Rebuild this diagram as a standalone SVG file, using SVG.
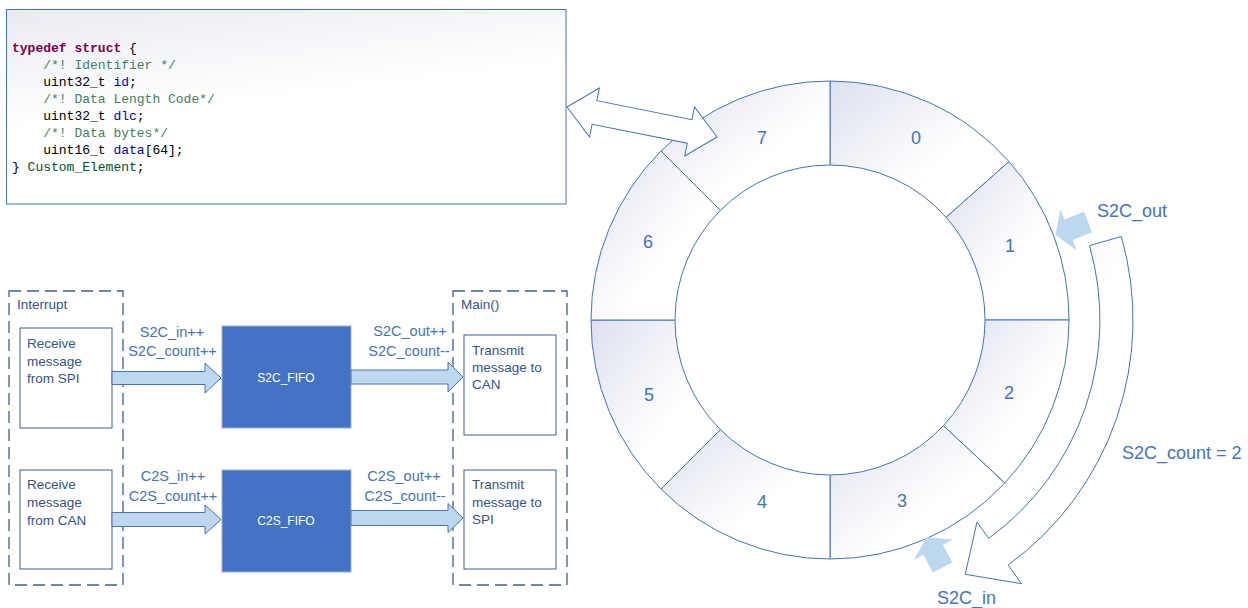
<svg xmlns="http://www.w3.org/2000/svg" width="1248" height="608" viewBox="0 0 1248 608">
<defs>
<linearGradient id="segGrad" x1="0" y1="0" x2="1" y2="1">
<stop offset="0" stop-color="#dde1ee"/>
<stop offset="0.6" stop-color="#ffffff"/>
</linearGradient>
<linearGradient id="codeGrad" x1="0" y1="0" x2="0.35" y2="1">
<stop offset="0" stop-color="#e9ebf2"/>
<stop offset="0.55" stop-color="#ffffff"/>
</linearGradient>
<linearGradient id="curveGrad" x1="0" y1="0" x2="1" y2="1">
<stop offset="0" stop-color="#e6e9f3"/>
<stop offset="0.5" stop-color="#ffffff"/>
</linearGradient>
<style>
.seg{fill:url(#segGrad);stroke:#4472c4;stroke-width:1}
.num{font-family:"Liberation Sans",Arial,sans-serif;font-size:18px;fill:#4472c4;text-anchor:middle}
.big{font-family:"Liberation Sans",Arial,sans-serif;font-size:18px;fill:#4472c4}
.code{font-family:"Liberation Mono","Courier New",monospace;font-size:13px;fill:#000000}
.kw{fill:#7f0055;font-weight:bold}
.cm{fill:#3f7f5f}
.fld{fill:#0000c0}
.typ{fill:#005032}
.dash{fill:none;stroke:#3d5d9c;stroke-width:1.3;stroke-dasharray:12,6}
.box{fill:#ffffff;stroke:#3d5d9c;stroke-width:1}
.boxt{font-family:"Liberation Sans",Arial,sans-serif;font-size:13.5px;fill:#34558f}
.fifo{fill:#4472c4;stroke:#9bb0d8;stroke-width:1}
.fifot{font-family:"Liberation Sans",Arial,sans-serif;font-size:12px;fill:#ffffff;text-anchor:middle}
.lbl{font-family:"Liberation Sans",Arial,sans-serif;font-size:14.5px;fill:#4472c4;text-anchor:middle}
.blk{fill:#bdd7ee;stroke:#4a72b8;stroke-width:1}
.ptr{fill:#bdd7ee;stroke:none}
.dbl{fill:#ffffff;stroke:#4472c4;stroke-width:1}
</style>
</defs>
<rect width="1248" height="608" fill="#ffffff"/>

<g id="code-box">
<rect x="6.5" y="9.5" width="559.5" height="194.5" fill="url(#codeGrad)" stroke="#4472c4" stroke-width="1"/>
<text class="code" x="12" y="51.5"><tspan class="kw">typedef</tspan> <tspan class="kw">struct</tspan> {</text>
<text class="code cm" x="43.2" y="68.6">/*! Identifier */</text>
<text class="code" x="43.2" y="85.7">uint32_t <tspan class="fld">id</tspan>;</text>
<text class="code cm" x="43.2" y="102.8">/*! Data Length Code*/</text>
<text class="code" x="43.2" y="119.9">uint32_t <tspan class="fld">dlc</tspan>;</text>
<text class="code cm" x="43.2" y="137">/*! Data bytes*/</text>
<text class="code" x="43.2" y="154.1">uint16_t <tspan class="fld">data</tspan>[64];</text>
<text class="code" x="12" y="171.2">} <tspan class="typ">Custom_Element</tspan>;</text>
</g>

<g id="ring">
<g id="seg0"><path class="seg" d="M830,81 A239,239 0 0 1 1009,161.6 L946.1,217.3 A155,155 0 0 0 830,165 Z"/><text class="num" x="916" y="144">0</text></g>
<g id="seg1"><path class="seg" d="M1009,161.6 A239,239 0 0 1 1069,320 L985,320 A155,155 0 0 0 946.1,217.3 Z"/><text class="num" x="1010" y="252">1</text></g>
<g id="seg2"><path class="seg" d="M1069,320 A239,239 0 0 1 1004.8,483 L943.4,425.7 A155,155 0 0 0 985,320 Z"/><text class="num" x="1009" y="399">2</text></g>
<g id="seg3"><path class="seg" d="M1004.8,483 A239,239 0 0 1 830,559 L830,475 A155,155 0 0 0 943.4,425.7 Z"/><text class="num" x="902" y="507">3</text></g>
<g id="seg4"><path class="seg" d="M830,559 A239,239 0 0 1 661,489 L720.4,429.6 A155,155 0 0 0 830,475 Z"/><text class="num" x="762" y="508">4</text></g>
<g id="seg5"><path class="seg" d="M661,489 A239,239 0 0 1 591,320 L675,320 A155,155 0 0 0 720.4,429.6 Z"/><text class="num" x="649" y="401">5</text></g>
<g id="seg6"><path class="seg" d="M591,320 A239,239 0 0 1 661,151 L720.4,210.4 A155,155 0 0 0 675,320 Z"/><text class="num" x="648" y="248">6</text></g>
<g id="seg7"><path class="seg" d="M661,151 A239,239 0 0 1 830,81 L830,165 A155,155 0 0 0 720.4,210.4 Z"/><text class="num" x="762" y="144">7</text></g>
</g>

<g id="interrupt-group">
<rect class="dash" x="9" y="291" width="114" height="294"/>
<text class="boxt" x="17" y="309">Interrupt</text>
</g>
<g id="main-group">
<rect class="dash" x="453" y="291" width="114" height="294"/>
<text class="boxt" x="461" y="309">Main()</text>
</g>

<g id="recv-spi">
<rect class="box" x="20" y="328" width="92" height="100"/>
<text class="boxt"><tspan x="27" y="348">Receive</tspan><tspan x="27" y="366">message</tspan><tspan x="27" y="383">from SPI</tspan></text>
</g>
<g id="recv-can">
<rect class="box" x="20" y="470" width="92" height="99"/>
<text class="boxt"><tspan x="27" y="489">Receive</tspan><tspan x="27" y="507">message</tspan><tspan x="27" y="525">from CAN</tspan></text>
</g>
<g id="s2c-fifo">
<rect class="fifo" x="222" y="326" width="129" height="102"/>
<text class="fifot" x="286" y="382">S2C_FIFO</text>
</g>
<g id="c2s-fifo">
<rect class="fifo" x="222" y="470" width="129" height="102"/>
<text class="fifot" x="286" y="525">C2S_FIFO</text>
</g>
<g id="tx-can">
<rect class="box" x="464" y="335" width="92" height="100"/>
<text class="boxt"><tspan x="472" y="355">Transmit</tspan><tspan x="472" y="372">message to</tspan><tspan x="472" y="389">CAN</tspan></text>
</g>
<g id="tx-spi">
<rect class="box" x="464" y="470" width="92" height="99"/>
<text class="boxt"><tspan x="472" y="489">Transmit</tspan><tspan x="472" y="507">message to</tspan><tspan x="472" y="524">SPI</tspan></text>
</g>

<g id="connectors">
<path class="blk" d="M112,371.5 H205 V363 L221,378 L205,393 V384.5 H112 Z"/>
<path class="blk" d="M351,370 H448 V362 L463,377 L448,392 V384 H351 Z"/>
<path class="blk" d="M112,512.5 H205 V505 L221,519.5 L205,534 V526.5 H112 Z"/>
<path class="blk" d="M351,510.5 H448 V503.5 L463,518 L448,532.5 V525.5 H351 Z"/>
<text class="lbl" x="172" y="337">S2C_in++</text>
<text class="lbl" x="172.5" y="356">S2C_count++</text>
<text class="lbl" x="410" y="336">S2C_out++</text>
<text class="lbl" x="409" y="356">S2C_count--</text>
<text class="lbl" x="173" y="481">C2S_in++</text>
<text class="lbl" x="173" y="501">C2S_count++</text>
<text class="lbl" x="404" y="481">C2S_out++</text>
<text class="lbl" x="405" y="501">C2S_count--</text>
<path class="dbl" transform="translate(567,107) rotate(11.3)" d="M0,0 L28,-25 L28,-12 L125,-12 L125,-25 L153,0 L125,25 L125,12 L28,12 L28,25 Z"/>
<path class="ptr" transform="translate(1088,222) rotate(158.5)" d="M0,-11 L21,-11 L21,-22 L35,0 L21,22 L21,11 L0,11 Z"/>
<path class="ptr" transform="translate(942.5,567.5) rotate(-117.6)" d="M0,-11 L20,-11 L20,-22 L34,0 L20,22 L20,11 L0,11 Z"/>
<path fill="url(#curveGrad)" stroke="#4472c4" stroke-width="1" d="M1121.3,236.5 A303,303 0 0 1 1008.1,565.1 L1021.6,583.7 L965.2,574.3 L977,522 L988.7,538.4 A270,270 0 0 0 1089.5,245.6 Z"/>
<text class="big" x="1097" y="217">S2C_out</text>
<text class="big" x="1122" y="459">S2C_count = 2</text>
<text class="big" x="937" y="604">S2C_in</text>
</g>
</svg>
